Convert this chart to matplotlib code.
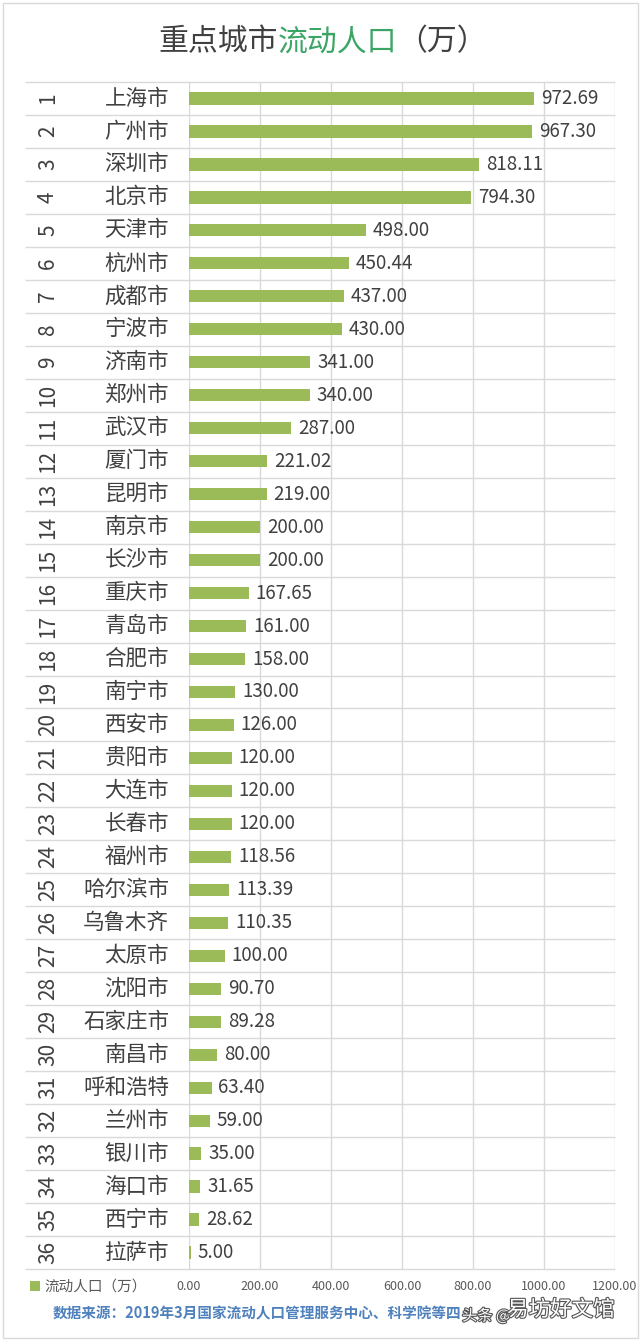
import numpy as np
import matplotlib
matplotlib.use("Agg")
import matplotlib.pyplot as plt
import matplotlib.patheffects as pe
from matplotlib.patches import Rectangle

plt.rcParams['font.family'] = ['Noto Sans CJK SC', 'DejaVu Sans']

# data
ranks = list(range(1, 37))
cities = ["上海市", "广州市", "深圳市", "北京市", "天津市", "杭州市", "成都市", "宁波市",
          "济南市", "郑州市", "武汉市", "厦门市", "昆明市", "南京市", "长沙市", "重庆市",
          "青岛市", "合肥市", "南宁市", "西安市", "贵阳市", "大连市", "长春市", "福州市",
          "哈尔滨市", "乌鲁木齐", "太原市", "沈阳市", "石家庄市", "南昌市", "呼和浩特", "兰州市",
          "银川市", "海口市", "西宁市", "拉萨市"]
values = [972.69, 967.30, 818.11, 794.30, 498.00, 450.44, 437.00, 430.00,
          341.00, 340.00, 287.00, 221.02, 219.00, 200.00, 200.00, 167.65,
          161.00, 158.00, 130.00, 126.00, 120.00, 120.00, 120.00, 118.56,
          113.39, 110.35, 100.00, 90.70, 89.28, 80.00, 63.40, 59.00,
          35.00, 31.65, 28.62, 5.00]
xticks = [0, 200, 400, 600, 800, 1000, 1200]
series_name = "流动人口（万）"
source = "数据来源：2019年3月国家流动人口管理服务中心、科学院等四"

W, H = 640, 1343
bar_color = "#9BBB59"
text_color = "#404040"
grid_color = "#d9d9d9"

fig = plt.figure(figsize=(W / 100, H / 100), dpi=100)
fig.patch.set_facecolor("white")

# axes placed in pixel terms
x0, x1 = 189, 615
y_top, y_bot = 82, 1269
ax = fig.add_axes([x0 / W, 1 - y_bot / H, (x1 - x0) / W, (y_bot - y_top) / H])

n = len(values)
ypos = np.arange(n)
bars = ax.barh(ypos, values, height=0.37, color=bar_color, label=series_name, zorder=3)
ax.set_xlim(0, 1200)
ax.set_ylim(n - 0.5, -0.5)

for s in ax.spines.values():
    s.set_visible(False)
ax.set_yticks([])
ax.set_xticks(xticks)
ax.set_xticklabels([f"{t:.2f}" for t in xticks], fontsize=9, color="#595959")
ax.tick_params(axis="x", length=0, pad=8)

# vertical grid
for t in xticks:
    ax.axvline(t, color=grid_color, lw=1, zorder=1)

# row separators extend to the left under the labels
left_ax = (25 - x0) / (x1 - x0)
ax.hlines(np.arange(-0.5, n, 1.0), left_ax, 1, transform=ax.get_yaxis_transform(),
          color=grid_color, lw=1, clip_on=False, zorder=1)

# value labels
for yy, v in zip(ypos, values):
    ax.annotate(f"{v:.2f}", (v, yy), xytext=(5, 0), textcoords="offset points",
                ha="left", va="center", fontsize=13.5, color=text_color)

# rank and city labels
rank_x = (48 - x0) / (x1 - x0)
city_x = (169 - x0) / (x1 - x0)
for yy, r, c in zip(ypos, ranks, cities):
    ax.text(rank_x, yy, str(r), transform=ax.get_yaxis_transform(), rotation=90,
            ha="center", va="center", fontsize=15, color=text_color)
    ax.text(city_x, yy, c, transform=ax.get_yaxis_transform(),
            ha="right", va="center", fontsize=15.5, color=text_color, fontweight="light")

# title in three colour pieces
ty = 1 - 42 / H
t1 = fig.text(158 / W, ty, "重点城市", fontsize=21.5, color=text_color, ha="left",
              va="center", fontweight="light")
t2 = ax.annotate("流动人口", xy=(1, 0), xycoords=t1, va="bottom", ha="left",
                 fontsize=21.5, color="#3BA565", fontweight="light")
ax.annotate("（万）", xy=(1, 0), xycoords=t2, va="bottom", ha="left",
            fontsize=21.5, color=text_color, fontweight="light")

# legend bottom left
leg = ax.legend(handles=[bars], labels=[series_name], loc="center left",
                bbox_to_anchor=(30 / W, 1 - 1287 / H), bbox_transform=fig.transFigure,
                frameon=False, fontsize=10.5, handlelength=0.7, handleheight=0.7,
                handletextpad=0.3, borderpad=0, borderaxespad=0)
for txt in leg.get_texts():
    txt.set_color("#595959")

# source note
fig.text(53 / W, 1 - 1313 / H, source, fontsize=10.5, fontweight="bold",
         color="#4F81BD", ha="left", va="center")

# watermark
wm = [pe.withStroke(linewidth=1.6, foreground="#555555")]
fig.text(462 / W, 1 - 1316 / H, "头条 @", fontsize=11, color="white",
         ha="left", va="center", path_effects=wm)
fig.text(507 / W, 1 - 1310 / H, "易坊好文馆", fontsize=15.5, color="white",
         ha="left", va="center", path_effects=wm)

# outer border of the picture
fig.add_artist(Rectangle((3 / W, 5 / H), 635 / W, 1 - 8 / H, transform=fig.transFigure,
                         fill=False, ec=grid_color, lw=1))

fig.savefig("out.png", dpi=100)
